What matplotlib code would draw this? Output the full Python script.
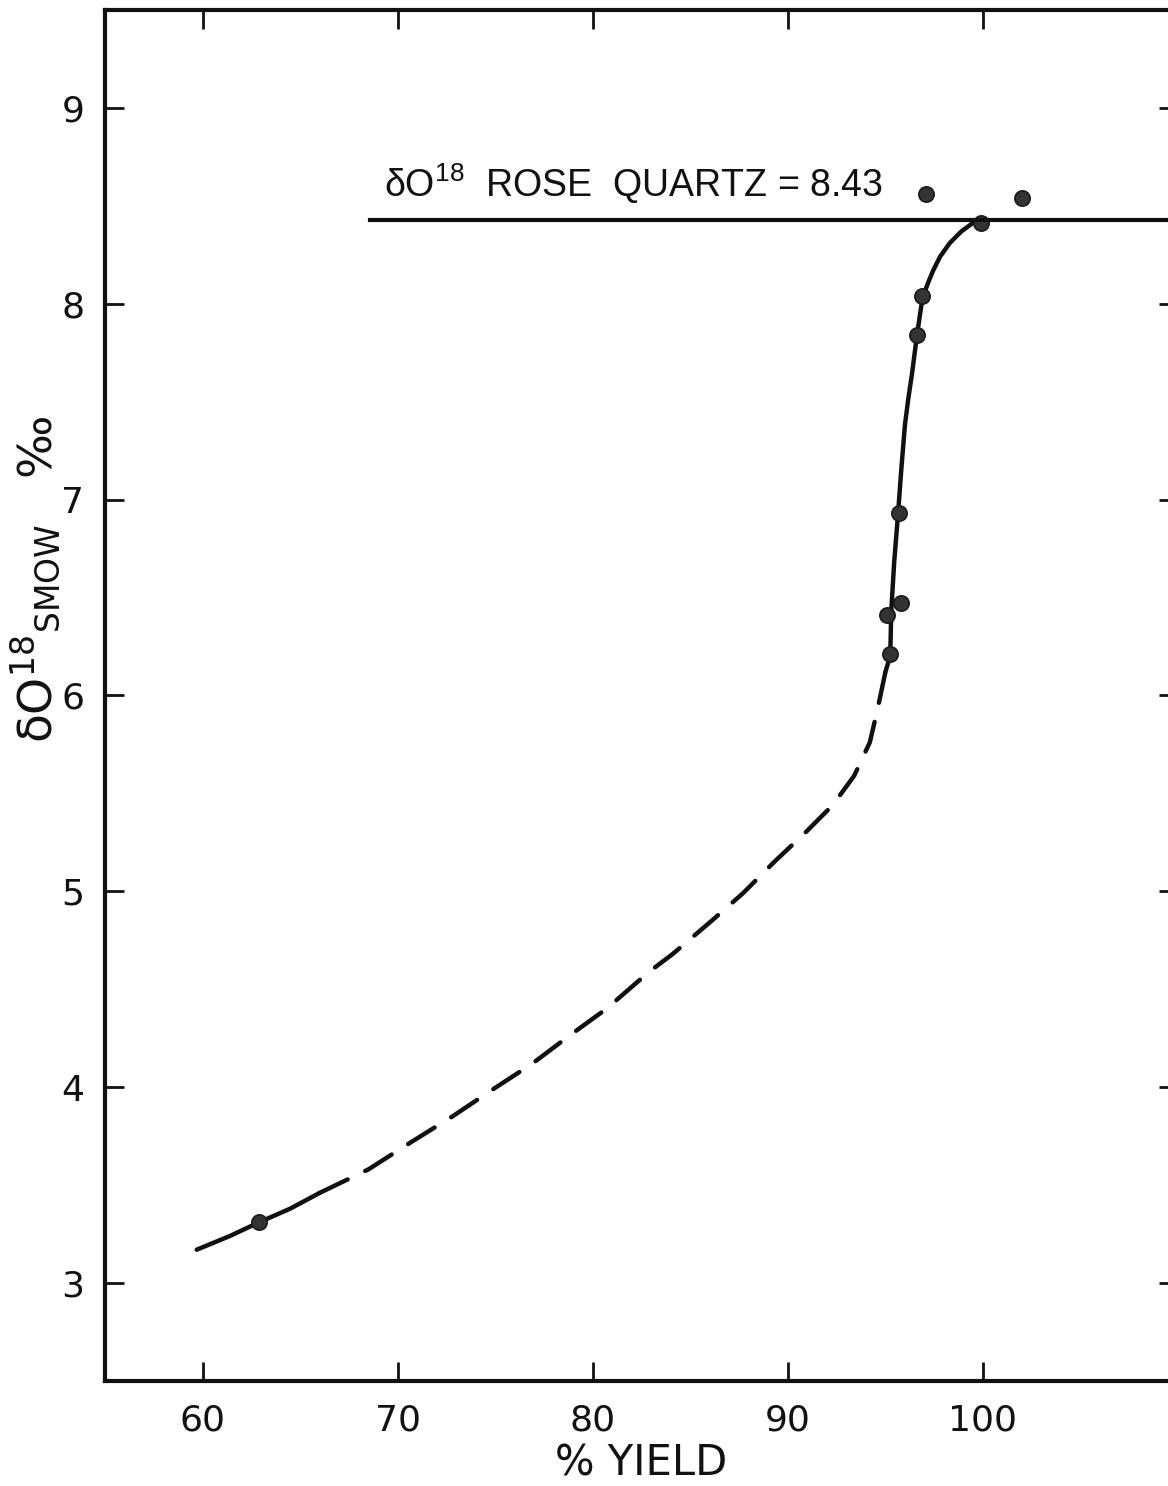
import numpy as np
import matplotlib
matplotlib.use("Agg")
from matplotlib import pyplot as plt

plt.rcParams['font.family'] = ['DejaVu Sans']
plt.rcParams['mathtext.fontset'] = 'dejavusans'
plt.rcParams['mathtext.default'] = 'regular'

# measured points: % yield vs delta O18 (SMOW, per mil)
yield_pct = [62.9, 95.1, 95.8, 95.25, 95.7, 96.6, 96.9, 99.9, 97.1, 102.0]
d18o = [3.31, 6.41, 6.47, 6.21, 6.93, 7.84, 8.04, 8.41, 8.56, 8.54]

# hand-fitted curve, split into solid / dashed / solid parts
low_x = [59.7, 61.4, 62.9, 64.5, 66.0]
low_y = [3.17, 3.24, 3.31, 3.38, 3.46]
mid_x = [66.0, 68.5, 70.7, 72.8, 74.9, 76.9, 78.9, 80.7, 82.9, 84.1, 86.1,
         87.7, 89.3, 90.9, 92.3, 93.4, 94.2, 94.6, 95.0]
mid_y = [3.46, 3.58, 3.72, 3.85, 3.99, 4.12, 4.27, 4.40, 4.59, 4.68, 4.85,
         4.99, 5.15, 5.30, 5.44, 5.59, 5.76, 5.93, 6.12]
up_x = [95.0, 95.15, 95.25, 95.3, 95.45, 95.65, 95.82, 96.0, 96.18, 96.36,
        96.62, 96.9, 97.2, 97.45, 97.8, 98.3, 98.9, 99.45, 100.1]
up_y = [6.12, 6.17, 6.21, 6.43, 6.68, 6.93, 7.16, 7.38, 7.52, 7.64,
        7.84, 8.03, 8.11, 8.17, 8.24, 8.31, 8.37, 8.41, 8.43]

rose_quartz = 8.43
xticks = [60, 70, 80, 90, 100]
yticks = [3, 4, 5, 6, 7, 8, 9]

fig = plt.figure(figsize=(11.68, 14.86), dpi=100)
ax = fig.add_axes([0.0899, 0.0707, 0.9187, 0.9226])
ax.set_xlim(55, 110)
ax.set_ylim(2.5, 9.5)

ink = '#111111'
ax.plot(low_x, low_y, color=ink, lw=3.2, solid_capstyle='round')
ax.plot(mid_x, mid_y, color=ink, lw=3.2, dashes=[7, 4.4],
        dash_capstyle='round')
ax.plot(up_x, up_y, color=ink, lw=3.2, solid_capstyle='round',
        solid_joinstyle='round')
ax.plot(yield_pct, d18o, 'o', color='#333333', markersize=11,
        markeredgecolor='#1a1a1a', markeredgewidth=1.2)

ax.plot([68.6, 110], [rose_quartz, rose_quartz], color=ink, lw=3.0,
        clip_on=False)
ax.text(69.3, 8.545, r"δO$^{18}$  ROSE  QUARTZ = %.2f" % rose_quartz,
        fontsize=27, family=['Liberation Sans', 'DejaVu Sans'], color=ink,
        va='baseline', ha='left')

for s in ax.spines.values():
    s.set_linewidth(3.0)
    s.set_color(ink)

ax.set_xticks(xticks)
ax.set_yticks(yticks)
ax.tick_params(direction='in', length=14, width=2.0, color=ink,
               top=True, right=True, labelsize=26, labelcolor=ink)
ax.tick_params(axis='x', pad=16)
ax.tick_params(axis='y', pad=15)

ax.set_xlabel('% YIELD', fontsize=30, color=ink, labelpad=4)
ax.set_ylabel(r"$\delta$O$^{18}$$_{SMOW}$   ‰", fontsize=34, color=ink)
ax.yaxis.set_label_coords(-0.040, 0.585)

fig.savefig("out.png", dpi=100)
